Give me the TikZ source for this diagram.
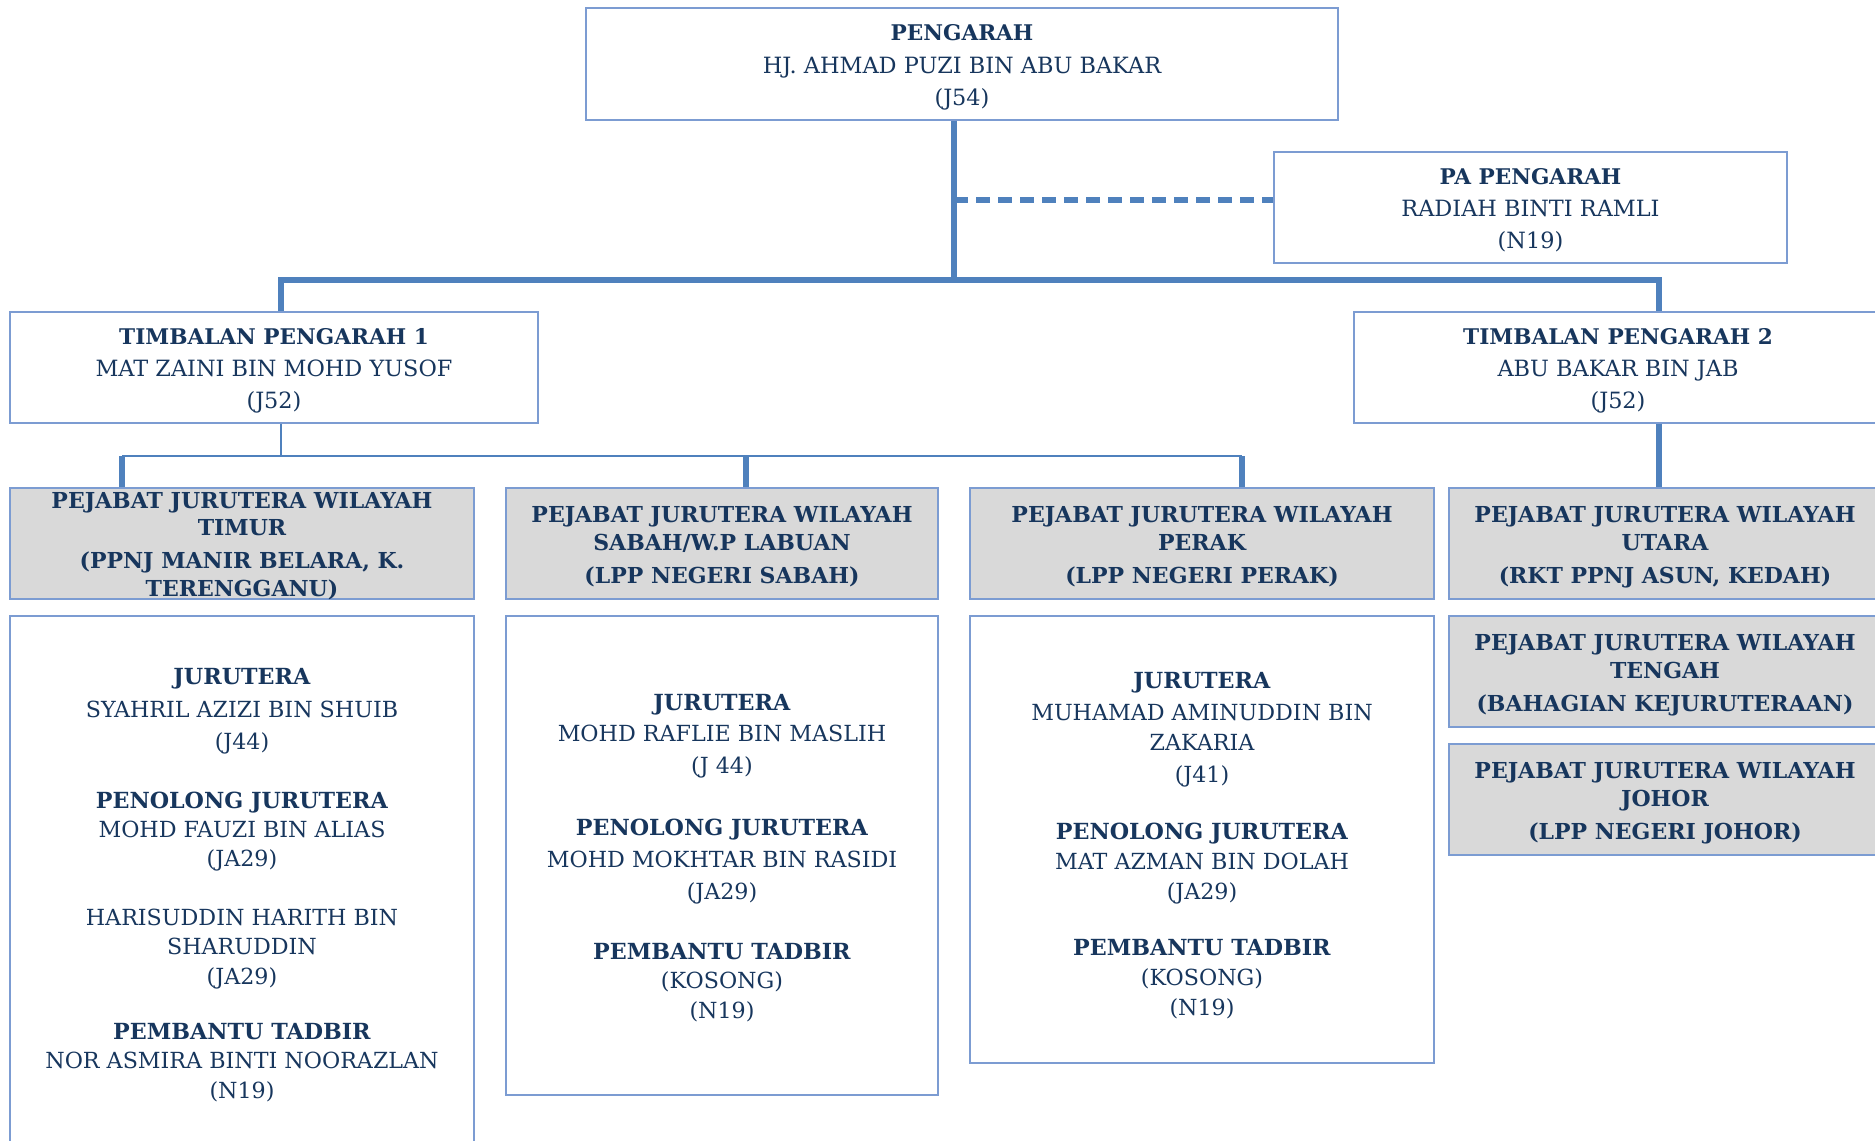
\documentclass[tikz,border=0pt]{standalone}
\usepackage{fontspec}
\setmainfont{DejaVu Serif}
\definecolor{txt}{HTML}{17365D}
\definecolor{ln}{HTML}{4F81BD}
\definecolor{bd}{HTML}{7C9CD2}
\definecolor{gf}{HTML}{D9D9D9}
\begin{document}
\begin{tikzpicture}[x=0.5pt,y=-0.5pt,
 box/.style={draw=bd,line width=0.6pt,fill=white,inner sep=0pt},
 office/.style={draw=bd,line width=0.6pt,fill=gf,inner sep=0pt},
 toptext/.style={align=center,text=txt,inner sep=0pt,anchor=north,font=\fontsize{11.2}{16.1}\selectfont},
 offtext/.style={align=center,text=txt,inner sep=0pt,anchor=north,font=\fontsize{11}{13.75}\selectfont\bfseries},
 stafftext/.style={align=center,text=txt,inner sep=0pt,anchor=north},
 hd/.style={font=\fontsize{10.8}{16.1}\selectfont\bfseries},
 thickln/.style={draw=ln,line width=2.75pt},
 thinln/.style={draw=ln,line width=0.75pt},
]
\useasboundingbox (0,0) rectangle (1875,1141);
\fill[white] (0,0) rectangle (1875,1141);

% top level boxes
\node[box,minimum width=376pt,minimum height=56pt] (dir) at (962,64) {};
\node[box,minimum width=256.5pt,minimum height=55.5pt] (pa) at (1530.5,207.5) {};
\node[box,minimum width=264pt,minimum height=55.5pt] (tp1) at (274,367.5) {};
\node[box,minimum width=264pt,minimum height=55.5pt] (tp2) at (1618,367.5) {};
\node[toptext] (dirt) at (962,24.4)
 {{\fontsize{10.8}{16.1}\selectfont\bfseries PENGARAH}\\HJ. AHMAD PUZI BIN ABU BAKAR\\(J54)};
\node[toptext] (pat) at (1530.5,167.9)
 {{\fontsize{10.8}{16.1}\selectfont\bfseries PA PENGARAH}\\RADIAH BINTI RAMLI\\(N19)};
\node[toptext] (tp1t) at (274,328.1)
 {{\fontsize{10.8}{16.1}\selectfont\bfseries TIMBALAN PENGARAH 1}\\MAT ZAINI BIN MOHD YUSOF\\(J52)};
\node[toptext] (tp2t) at (1618,328.1)
 {{\fontsize{10.8}{16.1}\selectfont\bfseries TIMBALAN PENGARAH 2}\\ABU BAKAR BIN JAB\\(J52)};

% offices
\node[office,minimum width=232pt,minimum height=55.5pt] (o1) at (242,543.5) {};
\node[office,minimum width=216pt,minimum height=55.5pt] (o2) at (722,543.5) {};
\node[office,minimum width=232pt,minimum height=55.5pt] (o3) at (1202,543.5) {};
\node[office,minimum width=216pt,minimum height=55.5pt] (o4) at (1665,543.5) {};
\node[office,minimum width=216pt,minimum height=55.5pt] (o5) at (1665,671.5) {};
\node[office,minimum width=216pt,minimum height=55.5pt] (o6) at (1665,799.5) {};
\node[offtext] (o1t) at (242,491.9)
 {PEJABAT JURUTERA WILAYAH\\TIMUR\\[2.75pt](PPNJ MANIR BELARA, K.\\TERENGGANU)};
\node[offtext] (o2t) at (722,506.2)
 {PEJABAT JURUTERA WILAYAH\\SABAH/W.P LABUAN\\[2.75pt](LPP NEGERI SABAH)};
\node[offtext] (o3t) at (1202,506.2)
 {PEJABAT JURUTERA WILAYAH\\PERAK\\[2.75pt](LPP NEGERI PERAK)};
\node[offtext] (o4t) at (1665,506.2)
 {PEJABAT JURUTERA WILAYAH\\UTARA\\[2.75pt](RKT PPNJ ASUN, KEDAH)};
\node[offtext] (o5t) at (1665,634.2)
 {PEJABAT JURUTERA WILAYAH\\TENGAH\\[2.75pt](BAHAGIAN KEJURUTERAAN)};
\node[offtext] (o6t) at (1665,762.2)
 {PEJABAT JURUTERA WILAYAH\\JOHOR\\[2.75pt](LPP NEGERI JOHOR)};

% staff boxes
\node[box,minimum width=232pt,minimum height=267pt] (s1) at (242,883) {};
\node[box,minimum width=216pt,minimum height=239.5pt] (s2) at (722,855.5) {};
\node[box,minimum width=232pt,minimum height=223.5pt] (s3) at (1202,839.5) {};

\node[stafftext,font=\fontsize{11.1}{14.7}\selectfont] (s1t) at (242,668.4)
 {\textbf{JURUTERA}\\[1.5pt]SYAHRIL AZIZI BIN SHUIB\\[1.5pt](J44)\\[14.5pt]
  \textbf{PENOLONG JURUTERA}\\MOHD FAUZI BIN ALIAS\\(JA29)\\[14.5pt]
  HARISUDDIN HARITH BIN\\SHARUDDIN\\(JA29)\\[13pt]
  \textbf{PEMBANTU TADBIR}\\NOR ASMIRA BINTI NOORAZLAN\\(N19)};
\node[stafftext,font=\fontsize{11.1}{15.8}\selectfont] (s2t) at (722,693.5)
 {\textbf{JURUTERA}\\MOHD RAFLIE BIN MASLIH\\(J 44)\\[15.5pt]
  \textbf{PENOLONG JURUTERA}\\MOHD MOKHTAR BIN RASIDI\\(JA29)\\[14.5pt]
  \textbf{PEMBANTU TADBIR}\\[-1.2pt](KOSONG)\\[-1.2pt](N19)};
\node[stafftext,font=\fontsize{11.1}{15}\selectfont] (s3t) at (1202,672)
 {\textbf{JURUTERA}\\[1pt]MUHAMAD AMINUDDIN BIN\\ZAKARIA\\[1pt](J41)\\[13.3pt]
  \textbf{PENOLONG JURUTERA}\\MAT AZMAN BIN DOLAH\\(JA29)\\[13.3pt]
  \textbf{PEMBANTU TADBIR}\\(KOSONG)\\(N19)};

% connectors
\coordinate (bus) at (954,280);
\coordinate (dashy) at (954,200);
\coordinate (l1) at (281,280);
\coordinate (r1) at (1659,280);
\draw[thickln] (dir.south -| bus) -- (bus);
\draw[thickln] (tp1.north -| l1) -- (l1) -- (r1) -- (tp2.north -| r1);
\draw[thickln,dash pattern=on 7pt off 4pt] (dashy) -- (pa.west |- dashy);
\coordinate (t1) at (281,456);
\coordinate (h1) at (122,456);
\coordinate (h2) at (746,456);
\coordinate (h3) at (1242,456);
\draw[thinln] (tp1.south -| t1) -- (t1);
\draw[thinln] (h1) -- (h3);
\draw[thickln] (h1) -- (o1.north -| h1);
\draw[thickln] (h2) -- (o2.north -| h2);
\draw[thickln] (h3) -- (o3.north -| h3);
\draw[thickln] (tp2.south -| r1) -- (o4.north -| r1);
\end{tikzpicture}
\end{document}
